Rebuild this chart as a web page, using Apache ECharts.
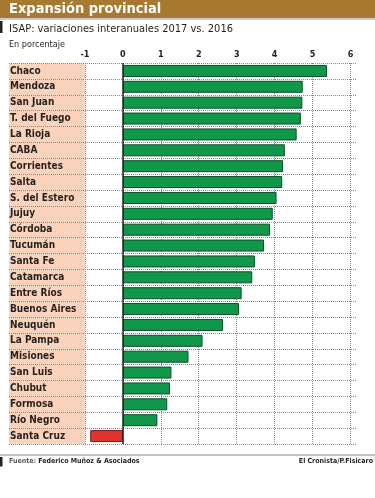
<!DOCTYPE html>
<html><head><meta charset="utf-8">
<script src="https://cdn.jsdelivr.net/npm/echarts@6/dist/echarts.min.js"></script>
<style>html,body{margin:0;padding:0;background:#fff}#c{width:375px;height:498px}</style>
</head><body><div id="c"></div>
<script>
const categories = ['Chaco','Mendoza','San Juan','T. del Fuego','La Rioja','CABA','Corrientes','Salta','S. del Estero','Jujuy','Córdoba','Tucumán','Santa Fe','Catamarca','Entre Ríos','Buenos Aires','Neuquén','La Pampa','Misiones','San Luis','Chubut','Formosa','Río Negro','Santa Cruz'];
const values = [5.38,4.74,4.73,4.69,4.58,4.27,4.22,4.20,4.05,3.95,3.88,3.72,3.48,3.41,3.13,3.06,2.64,2.10,1.73,1.28,1.24,1.17,0.91,-0.86];
const tickLabels = [-1,0,1,2,3,4,5,6];

const NARROW = '"DejaVu Sans Condensed","Liberation Sans Narrow",sans-serif';
const chart = echarts.init(document.getElementById('c'), null, {renderer:'canvas'});
const GRID = '#8a8a8a';
const splitColors = [];
for (let v = -3; v <= 6; v++) splitColors.push(tickLabels.indexOf(v) >= 0 ? GRID : 'rgba(0,0,0,0)');
splitColors.push('rgba(0,0,0,0)');
const areaColors = ['#fbd3bc','#fbd3bc'];
for (let i = 0; i < 9; i++) areaColors.push('rgba(255,255,255,0)');

chart.setOption({
  animation:false,
  backgroundColor:'#fff',
  graphic:[
    {type:'rect', shape:{x:0,y:0,width:375,height:18}, style:{fill:'#a87a30'}},
    {type:'rect', shape:{x:0,y:18.5,width:375,height:1}, style:{fill:'#9a9a9a'}},
    {type:'rect', shape:{x:0,y:21,width:2.5,height:12}, style:{fill:'#222'}},
    {type:'rect', shape:{x:0,y:454.5,width:375,height:1}, style:{fill:'#8a8a8a'}},
    {type:'rect', shape:{x:0,y:457,width:2.5,height:9.5}, style:{fill:'#222'}}
  ],
  title:[
    {text:'Expansión provincial', left:9, top:1.5, padding:0, textStyle:{color:'#fff', fontSize:14.5, fontWeight:'bold', fontFamily:NARROW}},
    {text:'ISAP: variaciones interanuales 2017 vs. 2016', left:9, top:24, padding:0, textStyle:{color:'#231f20', fontSize:11, fontWeight:'normal', fontFamily:NARROW}},
    {text:'En porcentaje', left:9, top:40, padding:0, textStyle:{color:'#231f20', fontSize:9, fontWeight:'normal', fontFamily:NARROW}},
    {text:'Fuente: {b|Federico Muñoz & Asociados}', left:9, top:458, padding:0, textStyle:{color:'#555', fontSize:7, fontFamily:NARROW, rich:{b:{fontWeight:'bold', color:'#231f20', fontSize:7, fontFamily:NARROW}}}},
    {text:'El Cronista/P.Fisicaro', right:2, top:458, padding:0, textStyle:{color:'#231f20', fontSize:7, fontWeight:'bold', fontFamily:NARROW}}
  ],
  grid:{left:9, right:18, top:63, bottom:54, containLabel:false},
  xAxis:{
    type:'value', position:'top', min:-3, max:6.17, interval:1, z:0,
    axisLine:{show:false}, axisTick:{show:false},
    axisLabel:{margin:4, color:'#231f20', fontSize:9, fontWeight:'bold', fontFamily:NARROW, showMaxLabel:false,
      formatter:v => tickLabels.indexOf(v) >= 0 ? String(v) : ''},
    splitLine:{show:true, lineStyle:{type:'dotted', color:splitColors, width:1}},
    splitArea:{show:true, areaStyle:{color:areaColors}}
  },
  yAxis:{
    type:'category', data:categories, inverse:true, z:1,
    axisLine:{show:false, onZero:false}, axisTick:{show:false},
    axisLabel:{inside:true, margin:1, color:'#231f20', fontSize:10, fontWeight:'bold', fontFamily:NARROW},
    splitLine:{show:true, lineStyle:{type:'dotted', color:GRID, width:1}}
  },
  series:[{
    type:'bar', barWidth:12,
    data: values.map(v => ({value:v, itemStyle: v < 0 ? {color:'#e0342d', borderColor:'#7a1a16'} : {color:'#11974a', borderColor:'#0a4f27'}})),
    itemStyle:{borderWidth:1},
    markLine:{silent:true, symbol:'none', label:{show:false}, lineStyle:{type:'solid', color:'#222', width:1.5}, data:[{xAxis:0}]}
  }]
});
</script></body></html>
